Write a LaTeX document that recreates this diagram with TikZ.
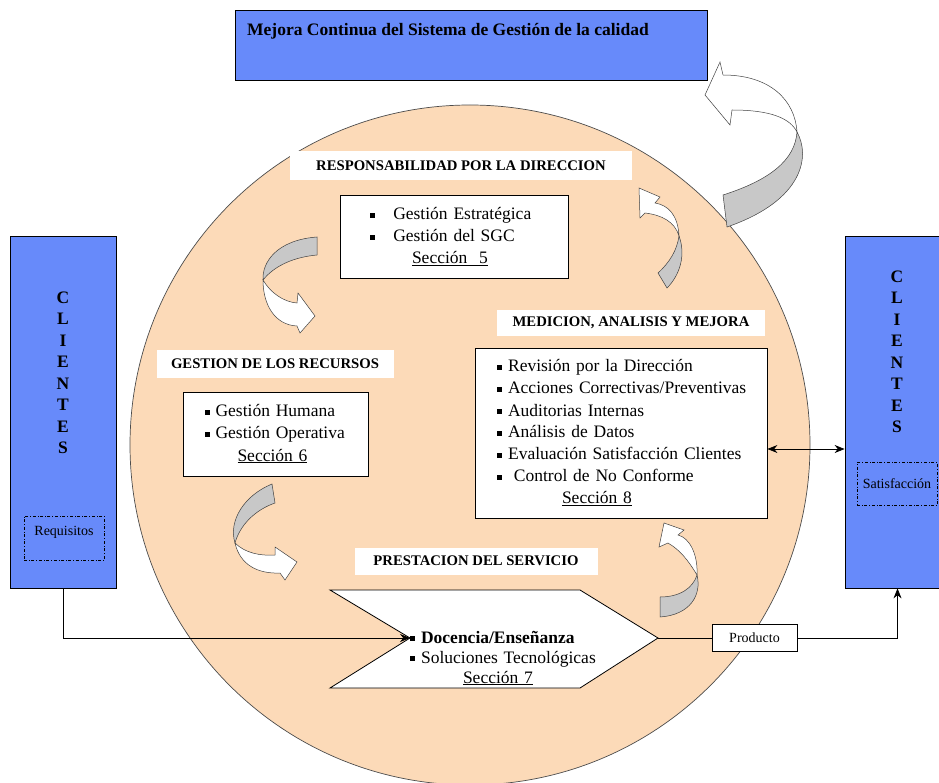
\documentclass[tikz,border=0pt]{standalone}
\usepackage{fontspec}
\setmainfont{Liberation Serif}
\usepackage{tikz}
\usetikzlibrary{positioning}
\usetikzlibrary{arrows.meta}
\definecolor{sgBlue}  {RGB}{103,138,250}
\definecolor{sgPeach} {RGB}{252,218,184}
\definecolor{sgGray}  {RGB}{200,200,200}
\newcommand{\sqbul}{\rule[0.12em]{0.3em}{0.3em}}

\begin{document}
\begin{tikzpicture}
[x=1pt, y=-1pt, >={Stealth[length=10pt,width=8pt]},
  txt/.style = {font=\fontsize{17.5}{22}\selectfont},
  box/.style = {draw, fill=white, line width=0.8pt, inner sep=0pt},
  tag/.style = {fill=white, inner sep=0pt, font=\bfseries\fontsize{14.7}{17}\selectfont},
  client/.style = {draw, fill=sgBlue, line width=0.8pt, inner sep=0pt, minimum width=106pt, minimum height=352pt},
  letters/.style = {align=center, inner sep=0pt, font=\bfseries\fontsize{17.5}{21.5}\selectfont},
  dashbox/.style = {draw, dash dot, line width=0.7pt, inner sep=0pt, minimum width=80pt, minimum height=44pt, font=\fontsize{14}{16}\selectfont},
  ribbonback/.style = {draw=black!75, fill=sgGray, line width=0.5pt},
  ribbonfront/.style = {draw=black!75, fill=white, line width=0.5pt}
]
\useasboundingbox (0,0) rectangle (939,783);

% Circle:
\draw[fill=sgPeach, draw=black!70, line width=0.7pt] (470,445) circle [radius=340pt];

% Top box:
\node[draw, fill=sgBlue, line width=0.8pt, inner sep=0pt, minimum width=472pt, minimum height=70pt] (mejora) at (471,45) {};
\node[anchor=west, inner sep=0pt, font=\bfseries\fontsize{17.5}{20}\selectfont] (mejoratxt) at (247,31) {Mejora Continua del Sistema de Gestión de la calidad};

% Clients:
\node[client] (clil) at (63.5,412) {};
\node[letters] (cliltxt) at (63,373) {C\\L\\I\\E\\N\\T\\E\\S};
\node[dashbox, text depth=15pt] (req) at (64,538) {Requisitos};
\node[client, minimum width=105pt] (clir) at (897.5,412) {};
\node[letters] (clirtxt) at (897,352) {C\\L\\I\\E\\N\\T\\E\\S};
\node[dashbox, minimum height=43pt] (sat) at (897,484) {Satisfacción};

% Ribbon arrows:
\draw[ribbonback]  (797,132) .. controls (810,155) and (805,200) .. (727,227) -- (723,195) .. controls (770,180) and (795,160) .. (797,132) -- cycle;
\draw[ribbonfront] (797,132) .. controls (790,118) and (770,110) .. (732,110) -- (730,125) -- (705,95) -- (720,62) -- (723,75) .. controls (770,75) and (795,100) .. (797,132) -- cycle;

\draw[ribbonback]  (317,237) -- (317,255) .. controls (295,257) and (275,265) .. (263,280) .. controls (262,262) and (277,240) .. (317,237) -- cycle;
\draw[ribbonfront] (263,280) .. controls (270,292) and (283,302) .. (297,303) -- (298,293) -- (315,316) -- (300,333) -- (297,326) .. controls (275,325) and (263,305) .. (263,280) -- cycle;

\draw[ribbonback]  (272,484) -- (275,503) .. controls (255,510) and (240,525) .. (235,543) .. controls (228,520) and (245,495) .. (272,484) -- cycle;
\draw[ribbonfront] (235,543) .. controls (245,553) and (260,556) .. (275,555) -- (275,547) -- (297,562) -- (285,580) -- (280,573) .. controls (258,574) and (240,565) .. (235,543) -- cycle;

\draw[ribbonback]  (679,236) .. controls (686,255) and (680,275) .. (667,288) -- (658,273) .. controls (670,262) and (677,250) .. (679,236) -- cycle;
\draw[ribbonfront] (679,236) .. controls (678,215) and (668,205) .. (655,203) -- (660,197) -- (639,188) -- (640,218) -- (645,213) .. controls (662,215) and (675,222) .. (679,236) -- cycle;

\draw[ribbonback]  (697,575) .. controls (702,595) and (690,615) .. (660,617) -- (660,597) .. controls (680,597) and (693,588) .. (697,575) -- cycle;
\draw[ribbonfront] (697,575) .. controls (698,555) and (690,538) .. (678,535) -- (684,530) -- (664,523) -- (659,547) -- (668,543) .. controls (680,550) and (688,560) .. (697,575) -- cycle;

% Section titles:
\node[tag, minimum width=342pt, minimum height=29pt] (resp) at (461,166) {RESPONSABILIDAD POR LA DIRECCION};
\node[tag, minimum width=268pt, minimum height=26pt] (medi) at (631,323) {MEDICION, ANALISIS Y MEJORA};
\node[tag, minimum width=237pt, minimum height=28pt] (recu) at (275,364) {GESTION DE LOS RECURSOS};
\node[tag, minimum width=243pt, minimum height=27pt] (pres) at (476,561) {PRESTACION DEL SERVICIO};

% Section boxes:
\node[box, txt, minimum width=228pt, minimum height=83pt, text width=210pt, align=left] (sec5) at (454,237)
{\hspace*{21pt}\sqbul\hspace{18pt}Gestión Estratégica\\
 \hspace*{21pt}\sqbul\hspace{18pt}Gestión del SGC\\
 \hspace*{63pt}\underline{Sección\ \ 5}};
\node[box, txt, minimum width=185pt, minimum height=84pt, text width=170pt, align=left] (sec6) at (275.5,434)
{\hspace*{14pt}\sqbul\ Gestión Humana\\
 \hspace*{14pt}\sqbul\ Gestión Operativa\\
 \hspace*{47pt}\underline{Sección 6}};
\node[box, txt, minimum width=292pt, minimum height=170pt, text width=276pt, align=left] (sec8) at (621,433)
{\hspace*{14pt}\sqbul\ Revisión por la Dirección\\
 \hspace*{14pt}\sqbul\ Acciones Correctivas/Preventivas\\
 \hspace*{14pt}\sqbul\ Auditorias Internas\\
 \hspace*{14pt}\sqbul\ Análisis de Datos\\
 \hspace*{14pt}\sqbul\ Evaluación Satisfacción Clientes\\
 \hspace*{14pt}\sqbul\ \ Control de No Conforme\\
 \hspace*{79pt}\underline{Sección 8}};

% Service chevron:
\draw[fill=white, line width=0.8pt] (330,590) -- (580,590) -- (658,638) -- (580,688) -- (330,688) -- (410,638) -- cycle;
\coordinate (notch) at (410,638);
\coordinate (tip) at (658,638);
\node[inner sep=0pt, text width=190pt, align=left, font=\fontsize{17.5}{20}\selectfont] (sec7) at (505,658)
{\sqbul\ \textbf{Docencia/Enseñanza}\\
 \sqbul\ Soluciones Tecnológicas\\
 \hspace*{53pt}\underline{Sección 7}};

\node[box, minimum width=85pt, minimum height=27pt, font=\fontsize{14}{16}\selectfont] (prod) at (754.5,638) {Producto};

% Connectors:
\draw[->, line width=0.8pt] (clil.south) |- (notch);
\draw[line width=0.8pt] (tip) -- (prod.west);
\draw[->, line width=0.8pt] (prod.east) -| (clir.south);
\coordinate (m8) at ([yshift=-16pt]sec8.east);
\draw[<->, line width=0.8pt] (m8) -- (m8 -| clir.west);
\end{tikzpicture}
\end{document}
